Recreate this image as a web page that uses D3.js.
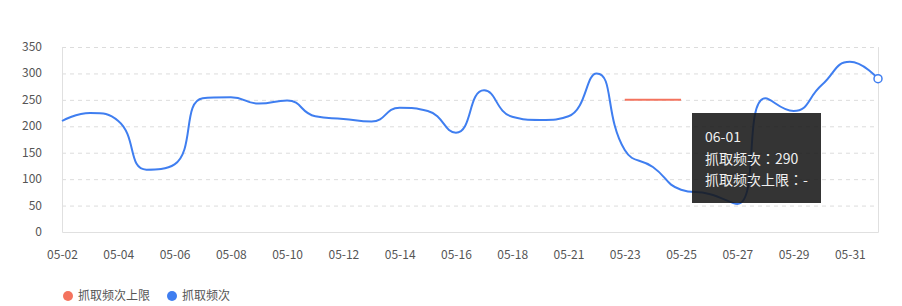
<!DOCTYPE html>
<html>
<head>
<meta charset="utf-8">
<script src="https://cdn.jsdelivr.net/npm/d3@7"></script>
<style>
  body { margin: 0; background: #fff; }
  svg text { font-family: "Microsoft YaHei", "Noto Sans CJK SC", sans-serif; }
</style>
</head>
<body>
<div id="chart"></div>
<script>
// categories (05-20 is not in the data)
var dates = ["05-02","05-03","05-04","05-05","05-06","05-07","05-08","05-09","05-10","05-11",
             "05-12","05-13","05-14","05-15","05-16","05-17","05-18","05-19","05-21","05-22",
             "05-23","05-24","05-25","05-26","05-27","05-28","05-29","05-30","05-31","06-01"];
var counts = [210, 225, 210, 118, 128, 253, 255, 243, 249, 219,
              214, 209, 235, 229, 188, 268, 218, 212, 219, 300,
              155, 123, 80, 72, 53, 253, 229, 278, 322, 290];
var limits = [null, null, null, null, null, null, null, null, null, null,
              null, null, null, null, null, null, null, null, null, null,
              250, 250, 250, null, null, null, null, null, null, null];
var yTicks = [0, 50, 100, 150, 200, 250, 300, 350];
var seriesNames = ["抓取频次上限", "抓取频次"];
var colors = ["#f4735e", "#3f7ef0"];

var width = 902, height = 306;
var gridLeft = 62, gridRight = 878, gridTop = 47, gridBottom = 232;

var svg = d3.select("#chart").append("svg")
    .attr("width", width)
    .attr("height", height);

var x = d3.scalePoint().domain(dates).range([gridLeft, gridRight]);
var y = d3.scaleLinear().domain([0, 350]).range([gridBottom, gridTop]);

// smooth curve with control points kept inside each segment's box (no overshoot)
function smoothPath(pts, smooth) {
  if (!pts.length) return "";
  var d = "M" + pts[0][0] + "," + pts[0][1];
  var cp0x = pts[0][0], cp0y = pts[0][1];
  for (var i = 1; i < pts.length; i++) {
    var px = pts[i - 1][0], py = pts[i - 1][1];
    var cx = pts[i][0], cy = pts[i][1];
    var cp1x = cx, cp1y = cy, ncx = cx, ncy = cy;
    var next = pts[i + 1];
    if (next) {
      var nx = next[0], ny = next[1];
      var vx = nx - px, vy = ny - py;
      var l0 = Math.hypot(cx - px, cy - py), l1 = Math.hypot(nx - cx, ny - cy);
      var r = l1 / (l0 + l1);
      ncx = cx + vx * smooth * r;
      ncy = cy + vy * smooth * r;
      ncx = Math.max(Math.min(ncx, Math.max(nx, cx)), Math.min(nx, cx));
      ncy = Math.max(Math.min(ncy, Math.max(ny, cy)), Math.min(ny, cy));
      vx = ncx - cx; vy = ncy - cy;
      cp1x = cx - vx * l0 / l1;
      cp1y = cy - vy * l0 / l1;
      cp1x = Math.max(Math.min(cp1x, Math.max(px, cx)), Math.min(px, cx));
      cp1y = Math.max(Math.min(cp1y, Math.max(py, cy)), Math.min(py, cy));
      vx = cx - cp1x; vy = cy - cp1y;
      ncx = cx + vx * l1 / l0;
      ncy = cy + vy * l1 / l0;
    }
    d += "C" + cp0x + "," + cp0y + "," + cp1x + "," + cp1y + "," + cx + "," + cy;
    cp0x = ncx; cp0y = ncy;
  }
  return d;
}

function toPoints(values) {
  var pts = [];
  values.forEach(function(v, i) {
    if (v != null) pts.push([x(dates[i]), y(v)]);
  });
  return pts;
}

// grid lines
svg.append("g").selectAll("line")
  .data(yTicks.filter(function(d) { return d > 0; }))
 .enter().append("line")
  .attr("x1", gridLeft).attr("x2", gridRight)
  .attr("y1", function(d) { return y(d) + 0.5; })
  .attr("y2", function(d) { return y(d) + 0.5; })
  .style("stroke", "#dcdcdc")
  .style("stroke-dasharray", "4,4");

// grid border (left, right, bottom)
svg.append("path")
  .attr("d", "M" + (gridLeft + 0.5) + "," + gridTop + "V" + (gridBottom + 0.5) +
             "H" + (gridRight + 0.5) + "V" + gridTop)
  .style("fill", "none")
  .style("stroke", "#e0e0e0");

// y axis labels
svg.append("g").selectAll("text")
  .data(yTicks)
 .enter().append("text")
  .attr("x", 42)
  .attr("y", function(d) { return y(d) + 4; })
  .attr("text-anchor", "end")
  .style("font-size", "12px")
  .style("fill", "#555")
  .text(function(d) { return d; });

// x axis labels, every other category
var xAxis = d3.axisBottom(x)
  .tickValues(dates.filter(function(d, i) { return i % 2 === 0; }))
  .tickSize(0)
  .tickPadding(18);

var gx = svg.append("g")
  .attr("transform", "translate(0," + gridBottom + ")")
  .call(xAxis);
gx.select(".domain").remove();
gx.selectAll("text")
  .style("font-size", "12px")
  .style("fill", "#555")
  .style("font-family", "\"Microsoft YaHei\", \"Noto Sans CJK SC\", sans-serif");

// lines
svg.append("path")
  .attr("d", smoothPath(toPoints(limits), 0.5))
  .style("fill", "none")
  .style("stroke", colors[0])
  .style("stroke-width", 2);

svg.append("path")
  .attr("d", smoothPath(toPoints(counts), 0.5))
  .style("fill", "none")
  .style("stroke", colors[1])
  .style("stroke-width", 2);

// hovered point
var last = counts.length - 1;
svg.append("circle")
  .attr("cx", x(dates[last]))
  .attr("cy", y(counts[last]))
  .attr("r", 4)
  .style("fill", "#fff")
  .style("stroke", colors[1])
  .style("stroke-width", 1.5);

// tooltip
var tip = svg.append("g").attr("transform", "translate(692,113)");
tip.append("rect")
  .attr("width", 129).attr("height", 90)
  .style("fill", "rgba(24,24,24,0.88)");
var tipLines = [dates[last], seriesNames[1] + "：" + counts[last], seriesNames[0] + "：-"];
tip.selectAll("text")
  .data(tipLines)
 .enter().append("text")
  .attr("x", 13)
  .attr("y", function(d, i) { return 29 + i * 21.5; })
  .style("font-size", "14px")
  .style("font-family", "\"Noto Sans CJK TC\", sans-serif")
  .style("fill", "#f0f0f0")
  .text(function(d) { return d; });

// legend
var legendX = [68, 172];
var legend = svg.append("g").selectAll("g")
  .data(seriesNames)
 .enter().append("g")
  .attr("transform", function(d, i) { return "translate(" + legendX[i] + ",296)"; });
legend.append("circle")
  .attr("r", 5)
  .style("fill", function(d, i) { return colors[i]; });
legend.append("text")
  .attr("x", 10)
  .attr("y", 4)
  .style("font-size", "12px")
  .style("fill", "#555")
  .text(function(d) { return d; });
</script>
</body>
</html>
